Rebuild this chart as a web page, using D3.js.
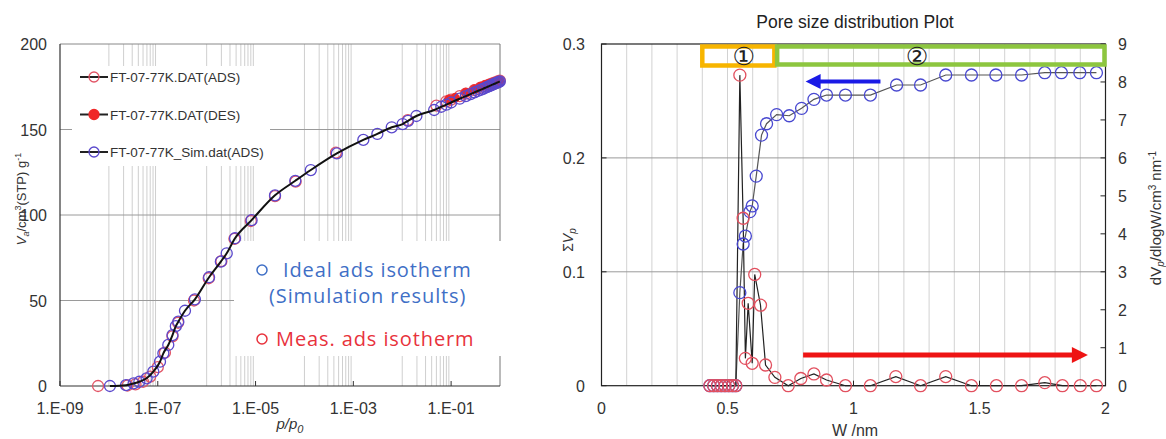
<!DOCTYPE html>
<html>
<head>
<meta charset="utf-8">
<style>
  body { margin: 0; background: #fff; }
  text { font-family: "Liberation Sans", Arial, sans-serif; }
</style>
</head>
<body>
<script src="https://cdn.jsdelivr.net/npm/d3@7"></script>
<script>
// ---- left chart: N2 isotherm, p/p0 on a log axis ----
var simP = [1.05e-8, 2.24e-8, 3.2e-8, 4.2e-8, 5.9e-8, 8.1e-8, 1.11e-7, 1.30e-7, 1.64e-7, 2.0e-7,
            2.34e-7, 2.63e-7, 3.6e-7, 5.75e-7, 1.12e-6, 1.95e-6, 2.57e-6, 3.8e-6, 8.3e-6, 2.5e-5,
            6.5e-5, 1.35e-4, 4.6e-4, 1.6e-3, 3.1e-3, 6.1e-3, 1.02e-2, 1.32e-2, 1.95e-2, 4.5e-2,
            6.3e-2, 0.08, 0.1, 0.15, 0.2, 0.25, 0.3, 0.35, 0.4, 0.45, 0.5, 0.55, 0.6, 0.65, 0.7,
            0.75, 0.8, 0.85, 0.9, 0.95, 0.99];
var simV = [0, 0.5, 1.5, 2.5, 4.5, 8.4, 14.2, 19.1, 24, 29.8,
            35, 37.6, 44, 50.7, 63.6, 72.7, 77.6, 86.4, 97, 111.5,
            120, 126.3, 136, 143.9, 147.4, 151.3, 153.2, 155.1, 157.9, 161.4,
            163.3, 164.5, 165.8, 168, 169.5, 170.7, 171.7, 172.5, 173.2, 173.8, 174.4, 174.9, 175.4, 175.8, 176.2,
            176.6, 176.9, 177.3, 177.6, 177.9, 178.2];
var adsP = [6e-9, 2.4e-8, 3.5e-8, 5e-8, 7e-8, 1.0e-7, 1.4e-7, 2.0e-7, 2.6e-7, 5.5e-7, 1.1e-6, 2.0e-6,
            3.7e-6, 8e-6, 2.5e-5, 6.6e-5, 4.4e-4, 1.3e-2, 0.05, 0.08, 0.1, 0.15, 0.2, 0.3, 0.4, 0.5,
            0.6, 0.7, 0.8, 0.9, 0.99];
var adsV = [0, 0.3, 1, 2.5, 5.5, 11, 19.5, 29, 37, 50, 63, 73,
            86, 96.5, 111, 119.5, 136.5, 155.5, 164, 166.5, 167.5, 169.5, 171, 173, 174.5, 175.5,
            176.3, 177, 177.6, 178.1, 178.6];
var desP = [0.09, 0.12, 0.2, 0.3, 0.4, 0.5, 0.6, 0.7, 0.8, 0.9, 0.97];
var desV = [167.5, 168.5, 171.5, 173.5, 175, 176, 176.8, 177.4, 177.9, 178.3, 178.6];
var isoXTicks = [1e-9, 1e-7, 1e-5, 1e-3, 1e-1];
var isoXLabels = ["1.E-09", "1.E-07", "1.E-05", "1.E-03", "1.E-01"];
var isoYTicks = [0, 50, 100, 150, 200];
var isoGridDecades = [1e-8, 1e-6, 1e-4, 1e-2];
var isoLegend = ["FT-07-77K.DAT(ADS)", "FT-07-77K.DAT(DES)", "FT-07-77K_Sim.dat(ADS)"];

// ---- right chart: pore size distribution ----
var cumW = [0.43, 0.445, 0.46, 0.475, 0.49, 0.505, 0.52, 0.533, 0.549, 0.562, 0.571, 0.589, 0.598,
            0.614, 0.635, 0.655, 0.695, 0.745, 0.794, 0.843, 0.893, 0.968, 1.067, 1.171, 1.266,
            1.366, 1.468, 1.565, 1.667, 1.759, 1.825, 1.898, 1.964];
var cumV = [0, 0, 0, 0, 0, 0, 0, 0, 0.0817, 0.1244, 0.1314, 0.1528, 0.1578,
            0.184, 0.220, 0.230, 0.238, 0.237, 0.2435, 0.2514, 0.2552, 0.2552, 0.2552, 0.264, 0.264,
            0.2728, 0.2728, 0.2728, 0.2728, 0.2748, 0.2748, 0.2748, 0.2748];
var dvW = [0.43, 0.445, 0.46, 0.475, 0.49, 0.505, 0.52, 0.533, 0.549, 0.562, 0.571, 0.582, 0.598,
           0.608, 0.631, 0.651, 0.688, 0.741, 0.791, 0.843, 0.893, 0.968, 1.067, 1.168, 1.266,
           1.366, 1.468, 1.567, 1.667, 1.759, 1.829, 1.9, 1.964];
var dvV = [0, 0, 0, 0, 0, 0, 0, 0, 8.18, 4.41, 0.72, 2.17, 0.59,
           2.93, 2.12, 0.545, 0.22, 0, 0.19, 0.31, 0.15, 0, 0, 0.24, 0,
           0.24, 0, 0, 0, 0.08, 0, 0, 0];
var psdXTicks = [0, 0.5, 1, 1.5, 2];
var psdLeftTicks = [0, 0.1, 0.2, 0.3];
var psdRightTicks = [0, 1, 2, 3, 4, 5, 6, 7, 8, 9];

var svg = d3.select('body').append('svg')
    .attr('width', 1166).attr('height', 439)
    .style('display', 'block');

// ================= left chart =================
var xIso = d3.scaleLog().domain([1e-9, 1]).range([60, 500]);
var yIso = d3.scaleLinear().domain([0, 200]).range([386, 44]);
var left = svg.append('g');

// minor vertical grid lines, only every other decade
var gridVals = [];
isoGridDecades.forEach(function (d) {
    for (var k = 1; k <= 9; k++) gridVals.push(d * k);
});
left.selectAll('.vgrid').data(gridVals).enter().append('line')
    .attr('x1', function (d) { return xIso(d); }).attr('x2', function (d) { return xIso(d); })
    .attr('y1', 44).attr('y2', 386)
    .attr('stroke', '#cfcfcf').attr('stroke-width', 1);
left.selectAll('.hgrid').data([50, 100, 150]).enter().append('line')
    .attr('x1', 60).attr('x2', 500)
    .attr('y1', function (d) { return yIso(d); }).attr('y2', function (d) { return yIso(d); })
    .attr('stroke', '#9a9a9a').attr('stroke-width', 1);
// frame
left.append('line').attr('x1', 60).attr('x2', 500).attr('y1', 44).attr('y2', 44).attr('stroke', '#888');
left.append('line').attr('x1', 500).attr('x2', 500).attr('y1', 44).attr('y2', 386).attr('stroke', '#777');

// white boxes behind legend and annotation
left.append('rect').attr('x', 72).attr('y', 66).attr('width', 198).attr('height', 100).attr('fill', '#fff');
left.append('rect').attr('x', 234).attr('y', 241).attr('width', 270).attr('height', 115).attr('fill', '#fff');

left.append('line').attr('x1', 60).attr('x2', 60).attr('y1', 44).attr('y2', 386).attr('stroke', '#333').attr('stroke-width', 1.2);
left.append('line').attr('x1', 60).attr('x2', 500).attr('y1', 386).attr('y2', 386).attr('stroke', '#333').attr('stroke-width', 1.2);
left.selectAll('.xt').data(isoXTicks).enter().append('line')
    .attr('x1', function (d) { return xIso(d); }).attr('x2', function (d) { return xIso(d); })
    .attr('y1', 386).attr('y2', 381).attr('stroke', '#333');

left.selectAll('.xl').data(isoXTicks).enter().append('text')
    .attr('x', function (d) { return xIso(d); }).attr('y', 414)
    .attr('text-anchor', 'middle').attr('font-size', 16).attr('fill', '#333')
    .text(function (d, i) { return isoXLabels[i]; });
left.selectAll('.yl').data(isoYTicks).enter().append('text')
    .attr('x', 47).attr('y', function (d) { return yIso(d) + 6; })
    .attr('text-anchor', 'end').attr('font-size', 16).attr('fill', '#333')
    .text(function (d) { return d; });

// axis titles
var yt = left.append('text').attr('transform', 'translate(26,199) rotate(-90)')
    .attr('text-anchor', 'middle').attr('font-size', 13).attr('fill', '#333');
yt.append('tspan').attr('font-style', 'italic').text('V');
yt.append('tspan').attr('font-style', 'italic').attr('font-size', 9).attr('dy', 3).text('a');
yt.append('tspan').attr('dy', -3).text('/cm');
yt.append('tspan').attr('font-size', 9).attr('dy', -5).text('3');
yt.append('tspan').attr('dy', 5).text('(STP) g');
yt.append('tspan').attr('font-size', 9).attr('dy', -5).text('-1');
var xt = left.append('text').attr('x', 290).attr('y', 429)
    .attr('text-anchor', 'middle').attr('font-size', 15).attr('fill', '#333').attr('font-style', 'italic');
xt.append('tspan').text('p/p');
xt.append('tspan').attr('font-size', 11).attr('dy', 4).text('0');

// data
left.selectAll('.ads').data(adsP).enter().append('circle')
    .attr('cx', function (d) { return xIso(d); })
    .attr('cy', function (d, i) { return yIso(adsV[i]); })
    .attr('r', 5.5).attr('fill', 'none').attr('stroke', '#e25566').attr('stroke-width', 1.3);
left.selectAll('.des').data(desP).enter().append('circle')
    .attr('cx', function (d) { return xIso(d); })
    .attr('cy', function (d, i) { return yIso(desV[i]); })
    .attr('r', 4.5).attr('fill', '#f02828').attr('stroke', '#f02828');
left.selectAll('.sim').data(simP).enter().append('circle')
    .attr('cx', function (d) { return xIso(d); })
    .attr('cy', function (d, i) { return yIso(simV[i]); })
    .attr('r', 5.5).attr('fill', 'none').attr('stroke', '#5a48cc').attr('stroke-width', 1.3);
var simLine = d3.line()
    .x(function (d) { return xIso(d); })
    .y(function (d, i) { return yIso(simV[i]); })
    .curve(d3.curveMonotoneX);
left.append('path').datum(simP).attr('d', simLine)
    .attr('fill', 'none').attr('stroke', '#111').attr('stroke-width', 2);

// legend
var legStyle = [
    { stroke: '#e25566', fill: 'none' },
    { stroke: '#f02828', fill: '#f02828' },
    { stroke: '#5a48cc', fill: 'none' }
];
var leg = left.selectAll('.leg').data(isoLegend).enter().append('g')
    .attr('transform', function (d, i) { return 'translate(80,' + (77 + i * 37.5) + ')'; });
leg.append('line').attr('x1', 0).attr('x2', 28).attr('stroke', '#222').attr('stroke-width', 2);
leg.append('circle').attr('cx', 14).attr('r', 5)
    .attr('fill', function (d, i) { return legStyle[i].fill; })
    .attr('stroke', function (d, i) { return legStyle[i].stroke; }).attr('stroke-width', 1.3);
leg.append('text').attr('x', 30).attr('y', 5).attr('font-size', 13.5).attr('fill', '#333')
    .text(function (d) { return d; });

// annotation
var annFont = '"Open Sans", sans-serif';
function annText(x, y, color, s) {
    left.append('text').attr('x', x).attr('y', y).attr('font-size', 20).attr('fill', color)
        .attr('letter-spacing', 0.9).style('font-family', annFont).text(s);
}
left.append('circle').attr('cx', 262).attr('cy', 270).attr('r', 5).attr('fill', 'none')
    .attr('stroke', '#3f6fc6').attr('stroke-width', 1.5);
annText(283, 277, '#3f6fc6', 'Ideal ads isotherm');
annText(269, 303, '#3f6fc6', '(Simulation results)');
left.append('circle').attr('cx', 262).attr('cy', 339).attr('r', 5).attr('fill', 'none')
    .attr('stroke', '#e8323c').attr('stroke-width', 1.5);
annText(276, 346, '#e8323c', 'Meas. ads isotherm');

// ================= right chart =================
var xPsd = d3.scaleLinear().domain([0, 2]).range([601.5, 1105.5]);
var yCum = d3.scaleLinear().domain([0, 0.3]).range([385.7, 44]);
var yDv = d3.scaleLinear().domain([0, 9]).range([385.7, 44]);
var right = svg.append('g');

right.append('text').attr('x', 855).attr('y', 28).attr('text-anchor', 'middle')
    .attr('font-size', 17.5).attr('fill', '#222').text('Pore size distribution Plot');

right.selectAll('.vg').data(d3.range(1, 20).map(function (i) { return i / 10; })).enter().append('line')
    .attr('x1', function (d) { return xPsd(d); }).attr('x2', function (d) { return xPsd(d); })
    .attr('y1', 44).attr('y2', 385.7).attr('stroke', '#d2d2d2');
right.selectAll('.hg').data([0.1, 0.2]).enter().append('line')
    .attr('x1', 601.5).attr('x2', 1105.5)
    .attr('y1', function (d) { return yCum(d); }).attr('y2', function (d) { return yCum(d); })
    .attr('stroke', '#9a9a9a');
right.append('rect').attr('x', 601.5).attr('y', 44).attr('width', 504).attr('height', 341.7)
    .attr('fill', 'none').attr('stroke', '#222').attr('stroke-width', 1.2);

right.selectAll('.rt').data(psdRightTicks).enter().append('line')
    .attr('x1', 1100.5).attr('x2', 1105.5)
    .attr('y1', function (d) { return yDv(d); }).attr('y2', function (d) { return yDv(d); })
    .attr('stroke', '#222');
right.selectAll('.lt').data(psdLeftTicks).enter().append('line')
    .attr('x1', 601.5).attr('x2', 606.5)
    .attr('y1', function (d) { return yCum(d); }).attr('y2', function (d) { return yCum(d); })
    .attr('stroke', '#222');
right.selectAll('.bt').data(psdXTicks).enter().append('line')
    .attr('x1', function (d) { return xPsd(d); }).attr('x2', function (d) { return xPsd(d); })
    .attr('y1', 385.7).attr('y2', 380.7).attr('stroke', '#222');

right.selectAll('.xl').data(psdXTicks).enter().append('text')
    .attr('x', function (d) { return xPsd(d); }).attr('y', 414)
    .attr('text-anchor', 'middle').attr('font-size', 16).attr('fill', '#333')
    .text(function (d) { return d; });
right.selectAll('.ll').data(psdLeftTicks).enter().append('text')
    .attr('x', 585).attr('y', function (d) { return yCum(d) + 6; })
    .attr('text-anchor', 'end').attr('font-size', 16).attr('fill', '#333')
    .text(function (d) { return d; });
right.selectAll('.rl').data(psdRightTicks).enter().append('text')
    .attr('x', 1118).attr('y', function (d) { return yDv(d) + 6; })
    .attr('font-size', 16).attr('fill', '#333')
    .text(function (d) { return d; });

var lt = right.append('text').attr('transform', 'translate(573,240) rotate(-90)')
    .attr('text-anchor', 'middle').attr('font-size', 14).attr('fill', '#333');
lt.append('tspan').text('\u03A3');
lt.append('tspan').attr('font-style', 'italic').text('V');
lt.append('tspan').attr('font-style', 'italic').attr('font-size', 10).attr('dy', 3).text('p');
var rt = right.append('text').attr('transform', 'translate(1161,218) rotate(-90)')
    .attr('text-anchor', 'middle').attr('font-size', 15).attr('fill', '#333');
rt.append('tspan').text('dV');
rt.append('tspan').attr('font-style', 'italic').attr('font-size', 10).attr('dy', 3).text('p');
rt.append('tspan').attr('dy', -3).text('/dlogW/cm');
rt.append('tspan').attr('font-size', 10).attr('dy', -5).text('3');
rt.append('tspan').attr('dy', 5).text(' nm');
rt.append('tspan').attr('font-size', 10).attr('dy', -5).text('-1');
right.append('text').attr('x', 855).attr('y', 436).attr('text-anchor', 'middle')
    .attr('font-size', 16).attr('fill', '#333').text('W /nm');

// series lines
var cumLine = d3.line().x(function (d) { return xPsd(d); }).y(function (d, i) { return yCum(cumV[i]); });
var dvLine = d3.line().x(function (d) { return xPsd(d); }).y(function (d, i) { return yDv(dvV[i]); });
right.append('path').datum(cumW).attr('d', cumLine).attr('fill', 'none').attr('stroke', '#555').attr('stroke-width', 1.2);
right.append('path').datum(dvW).attr('d', dvLine).attr('fill', 'none').attr('stroke', '#222').attr('stroke-width', 1.2);

right.selectAll('.cm').data(cumW).enter().append('circle')
    .attr('cx', function (d) { return xPsd(d); })
    .attr('cy', function (d, i) { return yCum(cumV[i]); })
    .attr('r', 6).attr('fill', 'none').attr('stroke', '#4848d0').attr('stroke-width', 1.3);
right.selectAll('.dv').data(dvW).enter().append('circle')
    .attr('cx', function (d) { return xPsd(d); })
    .attr('cy', function (d, i) { return yDv(dvV[i]); })
    .attr('r', 6).attr('fill', 'none').attr('stroke', '#e2505f').attr('stroke-width', 1.3);

// region boxes
right.append('rect').attr('x', xPsd(0.4)).attr('y', 46.5)
    .attr('width', xPsd(0.686) - xPsd(0.4)).attr('height', 19)
    .attr('fill', 'none').attr('stroke', '#f7b500').attr('stroke-width', 4.5);
right.append('rect').attr('x', xPsd(0.697)).attr('y', 46.5)
    .attr('width', xPsd(1.996) - xPsd(0.697)).attr('height', 18)
    .attr('fill', 'none').attr('stroke', '#8dc63f').attr('stroke-width', 4.5);
right.append('text').attr('x', xPsd(0.564)).attr('y', 65).attr('text-anchor', 'middle')
    .attr('font-size', 25).attr('fill', '#222').style('font-family', '"DejaVu Sans", sans-serif').text('\u2460');
right.append('text').attr('x', xPsd(1.252)).attr('y', 65).attr('text-anchor', 'middle')
    .attr('font-size', 25).attr('fill', '#222').style('font-family', '"DejaVu Sans", sans-serif').text('\u2461');

// arrows
function arrow(x0, x1, y, color, w, head) {
    var dir = x1 > x0 ? 1 : -1;
    right.append('line').attr('x1', x0).attr('x2', x1 - dir * head * 0.8).attr('y1', y).attr('y2', y)
        .attr('stroke', color).attr('stroke-width', w);
    right.append('path')
        .attr('d', 'M' + x1 + ',' + y + 'L' + (x1 - dir * head) + ',' + (y - head * 0.5) +
                   'L' + (x1 - dir * head) + ',' + (y + head * 0.5) + 'Z')
        .attr('fill', color);
}
arrow(xPsd(1.107), xPsd(0.81), yCum(0.267), '#1a1ae6', 4, 15);
arrow(xPsd(0.80), xPsd(1.93), yDv(0.81), '#ee1414', 5, 16);
</script>
</body>
</html>
